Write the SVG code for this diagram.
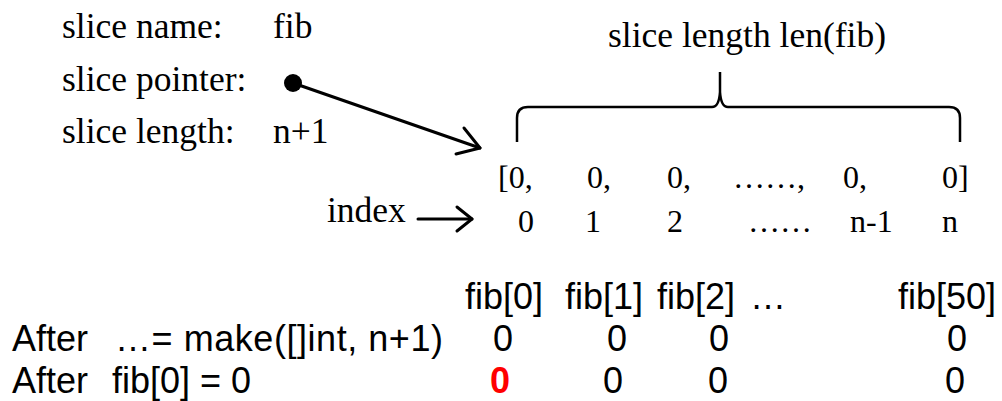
<svg xmlns="http://www.w3.org/2000/svg" width="1002" height="401" viewBox="0 0 1002 401">
<style>
.t{font-family:"Liberation Serif","Times New Roman",serif;font-size:35.5px;fill:#000}
.a{font-family:"Liberation Serif","Times New Roman",serif;font-size:32px;fill:#000}
.s{font-family:"Liberation Sans",Arial,sans-serif;font-size:36px;fill:#000}
.red{font-family:"Liberation Sans",Arial,sans-serif;font-size:36px;font-weight:bold;fill:#FF0000}
.ln{fill:none;stroke:#000;stroke-width:3;stroke-linecap:round;stroke-linejoin:round}
.br{fill:none;stroke:#000;stroke-width:2.5}
</style>
<rect width="1002" height="401" fill="#fff"/>
<g id="labels">
<text class="t" x="62" y="38">slice name:</text>
<text class="t" x="273" y="38">fib</text>
<text class="t" x="62" y="91">slice pointer:</text>
<text class="t" x="62" y="143">slice length:</text>
<text class="t" x="273" y="143">n+1</text>
</g>
<g id="pointer">
<circle cx="293" cy="83" r="9" fill="#000"/>
</g>
<g id="brace">
<text class="t" x="608" y="47">slice length len(fib)</text>
<path class="br" d="M517,142 V118 Q517,107 528,107 H712 Q719,107 720,92 V72 V92 Q721,107 728,107 H949 Q960,107 960,118 V142"/>
</g>
<g id="array">
<text class="a" x="498" y="188">[0,</text>
<text class="a" x="587" y="188">0,</text>
<text class="a" x="667" y="188">0,</text>
<text class="a" x="733" y="188">……,</text>
<text class="a" x="843" y="188">0,</text>
<text class="a" x="942" y="188">0]</text>
</g>
<g id="index">
<text class="t" x="327" y="222">index</text>
<text class="a" x="518" y="232">0</text>
<text class="a" x="585" y="232">1</text>
<text class="a" x="667" y="232">2</text>
<text class="a" x="748" y="232">……</text>
<text class="a" x="850" y="232">n-1</text>
<text class="a" x="942" y="232">n</text>
</g>
<g id="connectors">
<line class="ln" x1="293" y1="83" x2="480" y2="148"/>
<polyline class="ln" points="464,128 480,148 456,154"/>
<line class="ln" x1="418" y1="219" x2="472" y2="219"/>
<polyline class="ln" points="457,207 472,219 457,231"/>
</g>
<g id="table">
<text class="s" x="465" y="309">fib[0]</text>
<text class="s" x="565" y="309">fib[1]</text>
<text class="s" x="657" y="309">fib[2]</text>
<text class="s" x="750" y="309">…</text>
<text class="s" x="898" y="309">fib[50]</text>
<text class="s" x="12" y="351">After</text>
<text class="s" x="115" y="351" textLength="328" lengthAdjust="spacing">…= make([]int, n+1)</text>
<text class="s" x="503" y="351" text-anchor="middle">0</text>
<text class="s" x="617" y="351" text-anchor="middle">0</text>
<text class="s" x="719" y="351" text-anchor="middle">0</text>
<text class="s" x="957" y="351" text-anchor="middle">0</text>
<text class="s" x="12" y="393">After</text>
<text class="s" x="112" y="393">fib[0] = 0</text>
<text class="red" x="500" y="393" text-anchor="middle">0</text>
<text class="s" x="613" y="393" text-anchor="middle">0</text>
<text class="s" x="718" y="393" text-anchor="middle">0</text>
<text class="s" x="955" y="393" text-anchor="middle">0</text>
</g>
</svg>
